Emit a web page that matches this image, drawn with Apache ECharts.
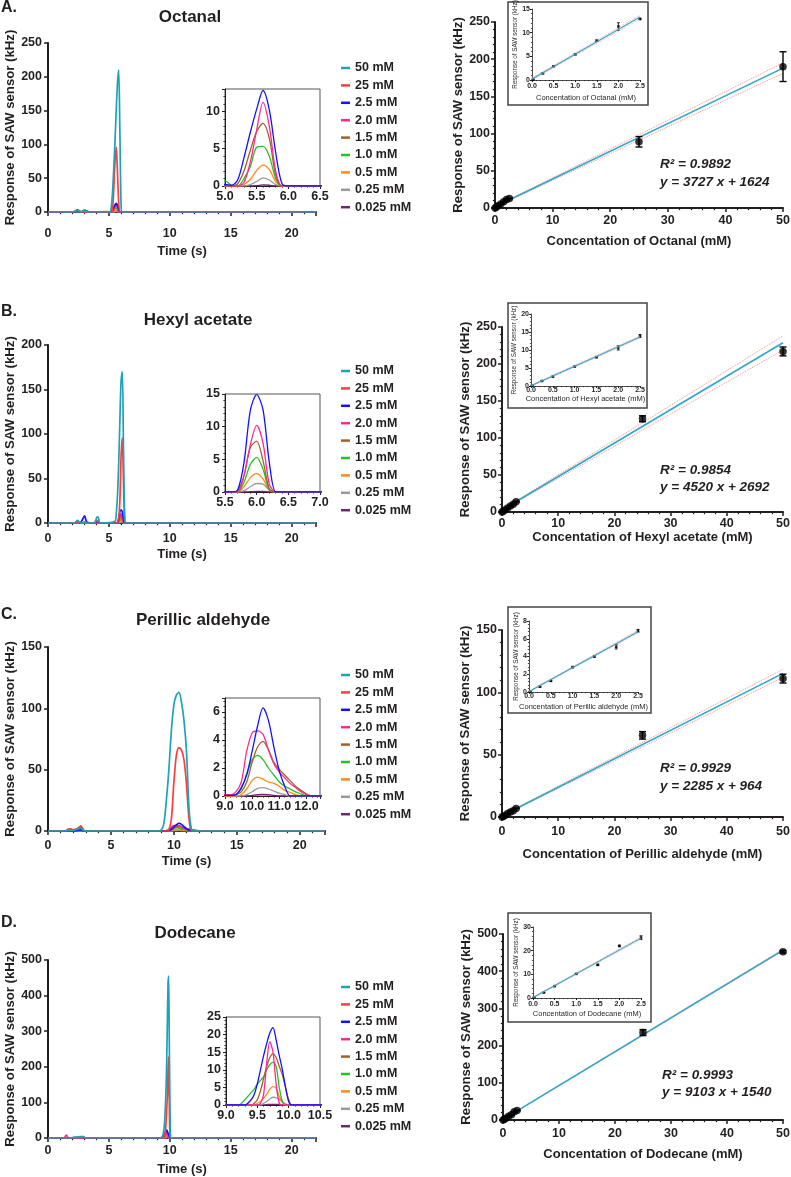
<!DOCTYPE html>
<html><head><meta charset="utf-8">
<script src="https://cdn.jsdelivr.net/npm/echarts@6/dist/echarts.min.js"></script>
<style>html,body{margin:0;padding:0;background:#fff}#c{width:791px;height:1177px}</style>
</head><body><div id="c"></div>
<script>
// ---------- DATA ----------
const concLabels = ['50 mM','25 mM','2.5 mM','2.0 mM','1.5 mM','1.0 mM','0.5 mM','0.25 mM','0.025 mM'];
const compounds = ['Octanal','Hexyl acetate','Perillic aldehyde','Dodecane'];
const panelLetters = ['A.','B.','C.','D.'];

// Chromatograms (time in s, response in kHz); rows follow concLabels order
const octTime = [0, 2.0, 2.2, 2.4, 2.6, 2.8, 3.0, 3.2, 3.4, 5.0, 5.1, 5.2, 5.3, 5.4, 5.5, 5.6, 5.7, 5.8, 5.9, 6.0, 6.1, 22];
const octCurves = [
  [0, 0, 1, 2, 1, 0, 2, 1, 0, 0, 0, 8, 30, 65, 105, 150, 190, 210, 120, 10, 0, 0],
  [0, 0, 1, 3, 1, 0, 1, 0, 0, 0, 0, 0, 5, 35, 75, 96, 60, 15, 0, 0, 0, 0],
  [0, 0, 0, 1, 0, 0, 1.5, 1, 0, 0.2, 0.1, 0.8, 3.8, 7.2, 10.3, 12.8, 10.2, 4.5, 0.3, 0, 0, 0],
  [0, 0, 1, 3.5, 1, 0, 0, 0, 0, 0, 0, 0, 0.5, 3.2, 7.5, 11.2, 8.0, 2.0, 0, 0, 0, 0],
  [0, 0, 0, 1, 0, 0, 1, 0, 0, 0, 0, 0.3, 2.0, 4.8, 7.3, 8.4, 6.4, 1.5, 0, 0, 0, 0],
  [0, 0, 0, 0.5, 0, 1, 3, 1, 0, 0.7, 0.1, 0, 1.0, 2.6, 5.2, 5.3, 4.0, 1.0, 0, 0, 0, 0],
  [0, 0, 0, 0.5, 0, 0, 0.5, 0, 0, 0, 0, 0, 0.2, 0.9, 2.1, 2.8, 2.2, 0.6, 0, 0, 0, 0],
  [0, 0, 0, 0, 0, 0, 0, 0, 0, 0, 0, 0, 0, 0.2, 0.6, 1.1, 0.8, 0.2, 0, 0, 0, 0],
  [0, 0, 0, 0, 0, 0, 0, 0, 0, 0, 0, 0, 0, 0, 0.05, 0.15, 0.1, 0, 0, 0, 0, 0]
];
const hexTime = [0, 2.2, 2.4, 2.6, 2.8, 3.0, 3.2, 3.8, 4.0, 4.1, 4.3, 5.5, 5.6, 5.7, 5.8, 5.9, 6.0, 6.1, 6.2, 6.3, 6.4, 22];
const hexCurves = [
  [0, 0, 3, 1, 0, 1, 0, 0, 6, 7, 0, 2, 10, 30, 65, 115, 160, 170, 80, 5, 0, 0],
  [0, 0, 1, 0, 0, 0, 0, 0, 3, 2, 0, 0, 0, 1, 5, 25, 75, 96, 45, 2, 0, 0],
  [0, 0, 1, 0, 3, 8, 1, 0, 2, 1, 0, 0, 0, 0.3, 4.5, 12.5, 14.9, 12.6, 4.5, 0, 0, 0],
  [0, 0, 0.5, 0, 0, 1, 0, 0, 0, 0, 0, 0, 0, 0, 2.5, 7.2, 10.2, 7.5, 1.2, 0, 0, 0],
  [0, 0, 0, 0, 0, 0.5, 0, 0, 0, 0, 0, 0, 0, 0.2, 2.5, 6.8, 7.8, 4.8, 0.5, 0, 0, 0],
  [0, 0, 0, 0, 0, 0.5, 0, 0, 0, 0, 0, 0, 0, 0, 1.5, 4.2, 5.3, 3.5, 0.3, 0, 0, 0],
  [0, 0, 0, 0, 0, 0, 0, 0, 0, 0, 0, 0, 0, 0, 0.8, 2.2, 2.8, 2.0, 0.3, 0, 0, 0],
  [0, 0, 0, 0, 0, 0, 0, 0, 0, 0, 0, 0, 0, 0, 0.2, 0.8, 1.3, 1.2, 0.3, 0, 0, 0],
  [0, 0, 0, 0, 0, 0, 0, 0, 0, 0, 0, 0, 0, 0, 0, 0.05, 0.1, 0.1, 0, 0, 0, 0]
];
const perTime = [0, 1.4, 1.6, 1.8, 2.0, 2.2, 2.4, 2.6, 2.8, 3.0, 8.6, 9.0, 9.2, 9.4, 9.6, 9.8, 10.0, 10.2, 10.4, 10.6, 10.8, 11.0, 11.2, 11.4, 11.6, 11.8, 12.0, 12.2, 22];
const perCurves = [
  [0, 0, 0.5, 0.5, 0.5, 1, 1.5, 2.5, 0.5, 0, 0, 1, 6, 25, 50, 82, 103, 111, 113, 105, 90, 65, 18, 1, 0, 0, 0, 0, 0],
  [0, 0, 1.5, 1.5, 1, 1.5, 2.5, 4, 1, 0, 0, 0, 0, 0, 1, 10, 40, 62, 68, 66, 58, 38, 10, 0, 0, 0, 0, 0, 0],
  [0, 0, 0, 0, 0, 0, 0.5, 1, 0, 0, 0, 0.05, 0.05, 0.1, 0.6, 1.5, 3.2, 5.0, 6.3, 5.4, 3.5, 1.8, 0.7, 0, 0, 0, 0, 0, 0],
  [0, 0, 1, 1.5, 1, 1, 2, 4, 1, 0, 0, 0.1, 0.1, 0.3, 1.0, 3.2, 4.5, 4.65, 4.4, 3.3, 2.3, 1.7, 1.3, 0.9, 0.6, 0.3, 0.1, 0, 0],
  [0, 0, 0, 0, 0, 0.5, 1, 1.5, 0, 0, 0, 0.05, 0.05, 0.1, 0.3, 1.0, 2.4, 3.5, 3.9, 3.3, 2.4, 1.9, 1.5, 1.1, 0.7, 0.4, 0.15, 0, 0],
  [0, 0, 0, 0, 0, 0, 0.5, 1, 0, 0, 0, 0.05, 0.05, 0.1, 0.5, 1.6, 2.6, 2.9, 2.6, 2.0, 1.5, 1.0, 0.7, 0.5, 0.3, 0.15, 0, 0, 0],
  [0, 0, 0, 0, 0, 0, 0, 0.5, 0, 0, 0, 0, 0, 0, 0.1, 0.5, 1.1, 1.35, 1.2, 1.0, 0.9, 0.7, 0.4, 0.25, 0.1, 0, 0, 0, 0],
  [0, 0, 0, 0, 0, 0, 0, 0, 0, 0, 0, 0, 0, 0, 0, 0.1, 0.3, 0.55, 0.6, 0.5, 0.35, 0.2, 0.1, 0, 0, 0, 0, 0, 0],
  [0, 0, 0, 0, 0, 0, 0, 0, 0, 0, 0, 0, 0, 0, 0, 0, 0.05, 0.1, 0.12, 0.1, 0.05, 0, 0, 0, 0, 0, 0, 0, 0]
];
const dodTime = [0, 1.3, 1.5, 1.7, 2.3, 2.6, 2.9, 3.1, 9.2, 9.3, 9.4, 9.45, 9.5, 9.55, 9.6, 9.65, 9.7, 9.75, 9.8, 9.85, 9.9, 9.95, 10.0, 10.05, 10.1, 22];
const dodCurves = [
  [0, 0, 0, 0, 2, 4, 3, 0, 0, 0, 5, 10, 20, 35, 60, 100, 150, 230, 330, 430, 455, 300, 120, 10, 0, 0],
  [0, 0, 0, 0, 1, 2, 1, 0, 0, 0, 0, 1, 3, 6, 10, 25, 50, 85, 120, 190, 228, 120, 20, 0, 0, 0],
  [0, 0, 0, 0, 1, 2, 1, 0, 0, 0, 1.5, 3, 6, 10, 14, 17.5, 20.5, 22, 18.5, 14, 10, 5, 1, 0, 0, 0],
  [0, 0, 8, 0, 0, 1, 0, 0, 0, 0, 0, 0, 0, 0.5, 3, 12, 18, 15, 6, 0.5, 0, 0, 0, 0, 0, 0],
  [0, 0, 0, 0, 1, 3, 4, 0, 0, 0, 0, 0.5, 1.5, 4, 7.5, 11, 13.5, 14.5, 13.5, 11, 8.5, 5, 1.5, 0, 0, 0],
  [0, 0, 0, 0, 0, 1, 0, 0, 0, 1.5, 3.5, 4.5, 6, 7, 8, 10, 11.5, 12.2, 11, 5, 1, 0, 0, 0, 0, 0],
  [0, 0, 0, 0, 0, 0, 0, 0, 0, 0, 0, 0, 0.5, 1, 2, 3, 4.5, 5.2, 4.8, 2.5, 0.8, 0, 0, 0, 0, 0],
  [0, 0, 0, 0, 0, 0, 0, 0, 0, 0, 0, 0, 0, 0, 0.5, 1, 1.7, 2.2, 2.1, 1.6, 0.9, 0.3, 0, 0, 0, 0],
  [0, 0, 0, 0, 0, 0, 0, 0, 0, 0, 0, 0, 0, 0, 0, 0.1, 0.2, 0.2, 0.2, 0.1, 0, 0, 0, 0, 0, 0]
];

// Calibration (concentration in mM, response in kHz)
const calConc = [0.025, 0.25, 0.5, 1.0, 1.5, 2.0, 2.5, 25, 50];
const octResp = [0.1, 1.4, 2.9, 5.4, 8.3, 11.3, 12.9, 89, 190];
const octErr  = [0.05, 0.1, 0.1, 0.1, 0.15, 0.8, 0.15, 7, 20];
const hexResp = [0.1, 1.4, 2.6, 5.4, 8.0, 10.6, 13.9, 126, 217];
const hexErr  = [0.05, 0.1, 0.1, 0.1, 0.15, 0.6, 0.4, 4, 6];
const perResp = [0.05, 0.6, 1.25, 2.8, 4.0, 5.1, 6.9, 65.5, 111];
const perErr  = [0.02, 0.05, 0.05, 0.08, 0.08, 0.25, 0.15, 3, 3.5];
const dodResp = [0.3, 2.3, 5.0, 10.2, 14.0, 22.0, 25.5, 235, 452];
const dodErr  = [0.1, 0.1, 0.2, 0.2, 0.3, 0.3, 0.8, 8, 3];
// regression y = slope*x + intercept  (Hz per mM, Hz)
const octFit = [3727, 1624];
const hexFit = [4520, 2692];
const perFit = [2285, 964];
const dodFit = [9103, 1540];
const r2Values = ['0.9892', '0.9854', '0.9929', '0.9993'];
// 95% bands at x = 0 and x = 50 (kHz)
const bandX = [0, 50];
const octBandLo = [1.2, 181], octBandHi = [2.0, 195];
const hexBandLo = [2.2, 219], hexBandHi = [3.2, 238];
const perBandLo = [0.6, 112], perBandHi = [1.3, 118.5];
const dodBandLo = [1.0, 454], dodBandHi = [2.0, 459];
// inset fit lines at x = 0 and x = 2.5 (kHz)
const insetX = [0, 2.5];
const octInFit = [0.2, 13.3], octInLo = [0.0, 12.9], octInHi = [0.4, 13.7];
const hexInFit = [0.1, 13.6], hexInLo = [-0.1, 13.3], hexInHi = [0.3, 13.9];
const perInFit = [0.05, 6.8], perInLo = [0.0, 6.65], perInHi = [0.1, 6.95];
const dodInFit = [0.2, 25.3], dodInLo = [0.0, 24.8], dodInHi = [0.4, 25.8];

// ---------- STYLE / LAYOUT ----------
const TXT = '#231f20';
const FONT = '"Liberation Sans", Arial, Helvetica, sans-serif';
const colors = ['#1ca3b8','#ff3b3b','#1212ff','#ff2a8c','#a0622a','#22c422','#ff8a14','#9a9a9a','#76207a'];
const FIT_C = '#2aa8cc', BAND_C = '#ff8a8a';

const rows = [
  {time:octTime, curves:octCurves, resp:octResp, err:octErr, fit:octFit, bLo:octBandLo, bHi:octBandHi, iFit:octInFit, iLo:octInLo, iHi:octInHi,
   L:{letterY:8, titleX:190, titleY:17,
      ch:{left:48, top:43, width:268, height:169}, yMax:250, yInt:50, xLM:15, xNG:33, yNG:29,
      ins:{left:225, top:89, width:95, height:97}, ix:[5, 6.5, 0.5], iy:[13, 5],
      legTop:61,
      cal:{left:495, top:22, width:288, height:186}, cy:[250, 50], cxLM:6, cxNG:27, cyNG:22,
      box:[508, 2, 140, 103], cin:{left:532, top:9, width:108, height:71}, ciy:[15, 5], cixLM:3, cixNG:14, ciyNG:12,
      eq:[660, 164, 182]}},
  {time:hexTime, curves:hexCurves, resp:hexResp, err:hexErr, fit:hexFit, bLo:hexBandLo, bHi:hexBandHi, iFit:hexInFit, iLo:hexInLo, iHi:hexInHi,
   L:{letterY:312, titleX:198, titleY:320,
      ch:{left:48, top:345, width:268, height:178}, yMax:200, yInt:50, xLM:9, xNG:25, yNG:29,
      ins:{left:225, top:394, width:95, height:98}, ix:[5.5, 7, 0.5], iy:[15, 5],
      legTop:364,
      cal:{left:502, top:327, width:281, height:185}, cy:[250, 50], cxLM:5, cxNG:19, cyNG:29,
      box:[508, 303, 139, 105], cin:{left:531, top:314, width:109, height:72}, ciy:[20, 5], cixLM:1, cixNG:8.5, ciyNG:11,
      eq:[660, 470, 487]}},
  {time:perTime, curves:perCurves, resp:perResp, err:perErr, fit:perFit, bLo:perBandLo, bHi:perBandHi, iFit:perInFit, iLo:perInLo, iHi:perInHi,
   L:{letterY:615, titleX:203, titleY:620,
      ch:{left:48, top:647, width:277, height:184}, yMax:150, yInt:50, xLM:8, xNG:24, yNG:29,
      ins:{left:225, top:698, width:95, height:98}, ix:[9, 12.5, 1], iy:[7, 2],
      legTop:668,
      cal:{left:502, top:630, width:281, height:187}, cy:[150, 50], cxLM:8, cxNG:31, cyNG:29,
      box:[508, 607, 143, 106], cin:{left:529, top:621, width:109, height:71}, ciy:[8, 2], cixLM:1, cixNG:11, ciyNG:10,
      eq:[660, 768, 786]}},
  {time:dodTime, curves:dodCurves, resp:dodResp, err:dodErr, fit:dodFit, bLo:dodBandLo, bHi:dodBandHi, iFit:dodInFit, iLo:dodInLo, iHi:dodInHi,
   L:{letterY:923, titleX:195, titleY:933,
      ch:{left:48, top:960, width:268, height:178}, yMax:500, yInt:100, xLM:6, xNG:25, yNG:29,
      ins:{left:226, top:1017, width:94, height:88}, ix:[9, 10.5, 0.5], iy:[25, 5],
      legTop:980,
      cal:{left:503, top:934, width:280, height:186}, cy:[500, 100], cxLM:7, cxNG:28, cyNG:29,
      box:[508, 913, 143, 109], cin:{left:533, top:927, width:108, height:71}, ciy:[30, 10], cixLM:3, cixNG:12, ciyNG:11,
      eq:[662, 1075, 1092]}}
];

function fmt(min, step, dec) {
  return function (v) {
    const k = (v - min) / step;
    return Math.abs(k - Math.round(k)) < 1e-6 ? v.toFixed(dec) : '';
  };
}
function axis(o) {
  const lw = o.lw, fs = o.fs;
  return Object.assign({
    type: 'value',
    axisLine: {show: true, onZero: false, lineStyle: {color: TXT, width: lw}},
    axisTick: {show: true, length: o.tl || 4, lineStyle: {color: TXT, width: Math.max(1, lw * 0.75)}},
    minorTick: {show: !!o.minor, splitNumber: o.minor || 5, length: (o.tl || 4) * 0.55, lineStyle: {color: TXT, width: Math.max(0.8, lw * 0.6)}},
    splitLine: {show: false},
    minorSplitLine: {show: false},
    axisLabel: {color: TXT, fontFamily: FONT, fontWeight: 'bold', fontSize: fs, margin: o.margin, formatter: o.formatter, hideOverlap: false},
    nameLocation: 'middle',
    nameTextStyle: {color: TXT, fontFamily: FONT, fontWeight: o.nameWeight || 'bold', fontSize: o.nfs || fs}
  }, o.extra);
}

function errRender(cap, lw) {
  return function (params, api) {
    const x = api.value(0), lo = api.value(1), hi = api.value(2);
    const p1 = api.coord([x, lo]), p2 = api.coord([x, hi]);
    const st = {stroke: '#000', lineWidth: lw};
    return {type: 'group', children: [
      {type: 'line', shape: {x1: p1[0], y1: p1[1], x2: p2[0], y2: p2[1]}, style: st},
      {type: 'line', shape: {x1: p1[0] - cap, y1: p1[1], x2: p1[0] + cap, y2: p1[1]}, style: st},
      {type: 'line', shape: {x1: p2[0] - cap, y1: p2[1], x2: p2[0] + cap, y2: p2[1]}, style: st}
    ]};
  };
}

const grids = [], xAxes = [], yAxes = [], series = [], legends = [], graphics = [];
function addGrid(g) { grids.push(Object.assign({containLabel: false, outerBoundsMode: 'none', show: false}, g)); return grids.length - 1; }

rows.forEach((r, i) => {
  const L = r.L;
  const name = compounds[i];
  graphics.push({type: 'text', x: 1, y: L.letterY, style: {text: panelLetters[i], fill: TXT, font: 'bold 16px ' + FONT, align: 'left', verticalAlign: 'middle'}});
  graphics.push({type: 'text', x: L.titleX, y: L.titleY, style: {text: name, fill: TXT, font: 'bold 17px ' + FONT, align: 'center', verticalAlign: 'middle'}});

  // ---- chromatogram main ----
  const g1 = addGrid(L.ch);
  xAxes.push(axis({lw: 2, fs: 12.5, nfs: 13, margin: L.xLM, minor: 5, formatter: fmt(0, 5, 0),
    extra: {gridIndex: g1, min: 0, max: 22, interval: 5, name: 'Time (s)', nameGap: L.xNG}}));
  const xi1 = xAxes.length - 1;
  yAxes.push(axis({lw: 2, fs: 12.5, nfs: 13.2, margin: 6, formatter: fmt(0, L.yInt, 0),
    extra: {gridIndex: g1, min: 0, max: L.yMax, interval: L.yInt, name: 'Response of SAW sensor (kHz)', nameGap: L.yNG}}));
  const yi1 = yAxes.length - 1;
  for (let k = concLabels.length - 1; k >= 0; k--) {
    series.push({type: 'line', name: concLabels[k], xAxisIndex: xi1, yAxisIndex: yi1, showSymbol: false, symbol: 'none',
      smooth: 0.3, color: colors[k], lineStyle: {color: colors[k], width: 1.7}, itemStyle: {color: colors[k]},
      data: r.time.map((t, j) => [t, r.curves[k][j]])});
  }
  // ---- chromatogram inset ----
  const g2 = addGrid(Object.assign({show: true, borderColor: '#555', borderWidth: 1, backgroundColor: 'transparent'}, L.ins));
  xAxes.push(axis({lw: 1, fs: 12.5, margin: 4, tl: 3, minor: 5, formatter: fmt(L.ix[0], L.ix[2], 1),
    extra: {gridIndex: g2, min: L.ix[0], max: L.ix[1], interval: L.ix[2]}}));
  const xi2 = xAxes.length - 1;
  yAxes.push(axis({lw: 1, fs: 12.5, margin: 5, tl: 3, minor: 5, formatter: fmt(0, L.iy[1], 0),
    extra: {gridIndex: g2, min: 0, max: L.iy[0], interval: L.iy[1]}}));
  const yi2 = yAxes.length - 1;
  for (let k = concLabels.length - 1; k >= 2; k--) {
    series.push({type: 'line', name: concLabels[k], xAxisIndex: xi2, yAxisIndex: yi2, showSymbol: false, symbol: 'none',
      smooth: 0.3, color: colors[k], lineStyle: {color: colors[k], width: 1.3}, itemStyle: {color: colors[k]},
      data: r.time.map((t, j) => [t, r.curves[k][j]])});
  }
  // ---- legend ----
  legends.push({orient: 'vertical', left: 341, top: L.legTop, padding: 0, itemWidth: 9, itemHeight: 2.5, itemGap: 3.4,
    icon: 'rect', data: concLabels, selectedMode: false,
    textStyle: {color: TXT, fontFamily: FONT, fontWeight: 'bold', fontSize: 12.5, lineHeight: 14}});

  // ---- calibration main ----
  const g3 = addGrid(L.cal);
  xAxes.push(axis({lw: 2, fs: 12.5, nfs: 13, margin: L.cxLM, minor: 5, formatter: fmt(0, 10, 0),
    extra: {gridIndex: g3, min: 0, max: 50, interval: 10, name: 'Concentation of ' + name + ' (mM)', nameGap: L.cxNG}}));
  const xi3 = xAxes.length - 1;
  yAxes.push(axis({lw: 2, fs: 12.5, nfs: 13.2, margin: 5, minor: 5, formatter: fmt(0, L.cy[1], 0),
    extra: {gridIndex: g3, min: 0, max: L.cy[0], interval: L.cy[1], name: 'Response of SAW sensor (kHz)', nameGap: L.cyNG}}));
  const yi3 = yAxes.length - 1;
  const m = r.fit[0] / 1000, b = r.fit[1] / 1000;
  series.push({type: 'line', xAxisIndex: xi3, yAxisIndex: yi3, symbol: 'none', lineStyle: {color: BAND_C, width: 1, type: 'dotted'}, data: bandX.map((x, j) => [x, r.bLo[j]]), z: 3});
  series.push({type: 'line', xAxisIndex: xi3, yAxisIndex: yi3, symbol: 'none', lineStyle: {color: BAND_C, width: 1, type: 'dotted'}, data: bandX.map((x, j) => [x, r.bHi[j]]), z: 3});
  series.push({type: 'line', xAxisIndex: xi3, yAxisIndex: yi3, symbol: 'none', lineStyle: {color: FIT_C, width: 1.6}, data: bandX.map(x => [x, m * x + b]), z: 4});
  series.push({type: 'custom', xAxisIndex: xi3, yAxisIndex: yi3, renderItem: errRender(3.5, 1.4), encode: {x: 0, y: [1, 2]},
    data: calConc.map((c, j) => [c, r.resp[j] - r.err[j], r.resp[j] + r.err[j]]), z: 5});
  series.push({type: 'scatter', xAxisIndex: xi3, yAxisIndex: yi3, symbol: 'circle', symbolSize: 7.5, itemStyle: {color: '#000'},
    data: calConc.map((c, j) => [c, r.resp[j]]), z: 6});

  // ---- calibration inset ----
  const bx = L.box;
  graphics.push({type: 'rect', z: -5, shape: {x: bx[0], y: bx[1], width: bx[2], height: bx[3]}, style: {fill: '#fff', stroke: '#444', lineWidth: 1.5}});
  const g4 = addGrid(L.cin);
  xAxes.push(axis({lw: 0.8, fs: 7, margin: L.cixLM, tl: 2, minor: 5, formatter: fmt(0, 0.5, 1), nfs: 7.5, nameWeight: 'normal',
    extra: {gridIndex: g4, min: 0, max: 2.5, interval: 0.5, name: 'Concentation of ' + name + ' (mM)', nameGap: L.cixNG}}));
  const xi4 = xAxes.length - 1;
  yAxes.push(axis({lw: 0.8, fs: 7, margin: 2, tl: 2, minor: 5, formatter: fmt(0, L.ciy[1], 0), nfs: 6.3, nameWeight: 'normal',
    extra: {gridIndex: g4, min: 0, max: L.ciy[0], interval: L.ciy[1], name: 'Response of SAW sensor (kHz)', nameGap: L.ciyNG}}));
  const yi4 = yAxes.length - 1;
  series.push({type: 'line', xAxisIndex: xi4, yAxisIndex: yi4, symbol: 'none', lineStyle: {color: BAND_C, width: 0.8, type: 'dotted'}, data: insetX.map((x, j) => [x, r.iLo[j]])});
  series.push({type: 'line', xAxisIndex: xi4, yAxisIndex: yi4, symbol: 'none', lineStyle: {color: BAND_C, width: 0.8, type: 'dotted'}, data: insetX.map((x, j) => [x, r.iHi[j]])});
  series.push({type: 'line', xAxisIndex: xi4, yAxisIndex: yi4, symbol: 'none', lineStyle: {color: FIT_C, width: 1.1}, data: insetX.map((x, j) => [x, r.iFit[j]])});
  series.push({type: 'custom', xAxisIndex: xi4, yAxisIndex: yi4, renderItem: errRender(1.5, 0.8), encode: {x: 0, y: [1, 2]},
    data: calConc.slice(0, 7).map((c, j) => [c, r.resp[j] - r.err[j], r.resp[j] + r.err[j]])});
  series.push({type: 'scatter', xAxisIndex: xi4, yAxisIndex: yi4, symbol: 'rect', symbolSize: 2.6, itemStyle: {color: '#000'},
    data: calConc.slice(0, 7).map((c, j) => [c, r.resp[j]])});

  graphics.push({type: 'text', x: L.eq[0], y: L.eq[1], style: {text: 'R\u00b2 = ' + r2Values[i], fill: TXT, font: 'italic bold 13.5px ' + FONT, align: 'left', verticalAlign: 'middle'}});
  graphics.push({type: 'text', x: L.eq[0], y: L.eq[2], style: {text: 'y = ' + r.fit[0] + ' x + ' + r.fit[1], fill: TXT, font: 'italic bold 13.5px ' + FONT, align: 'left', verticalAlign: 'middle'}});
});

const chart = echarts.init(document.getElementById('c'), null, {renderer: 'canvas', width: 791, height: 1177});
chart.setOption({
  backgroundColor: '#fff',
  animation: false,
  textStyle: {fontFamily: FONT},
  grid: grids, xAxis: xAxes, yAxis: yAxes, legend: legends, series: series,
  graphic: {elements: graphics}
});
</script></body></html>
